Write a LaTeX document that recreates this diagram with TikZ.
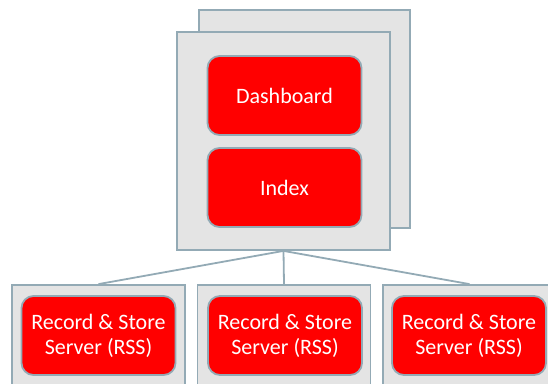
\documentclass[tikz,border=0pt]{standalone}
\usepackage{fontspec}
\setmainfont{Carlito}
\definecolor{panelfill}{HTML}{E4E4E4}
\definecolor{edge}{HTML}{93AAB5}
\definecolor{boxred}{HTML}{FF0000}
\begin{document}
\begin{tikzpicture}[x=1pt,y=-1pt,
  panel/.style={draw=edge, line width=1.8pt, fill=panelfill, rectangle, inner sep=0pt},
  redbox/.style={draw=edge, line width=1.8pt, fill=boxred, rectangle, rounded corners=12pt,
    inner sep=0pt, minimum width=154pt, minimum height=79pt, text=white,
    font=\fontsize{22}{25}\selectfont, align=center},
  link/.style={draw=edge, line width=1.8pt}]
\useasboundingbox (0,0) rectangle (548,383);
\clip (0,0) rectangle (548,383);
% top stack
\node[panel, minimum width=211pt, minimum height=218pt] (back) at (304.5,119) {};
\node[panel, minimum width=213pt, minimum height=218pt] (front) at (283.5,141) {};
\node[redbox] (dash) at (284.5,95.5) {Dashboard};
\node[redbox] (index) at (284.5,187.5) {Index};
% bottom panels
\node[panel, minimum width=173pt, minimum height=140pt] (p1) at (98.5,355) {};
\node[panel, minimum width=173pt, minimum height=140pt] (p2) at (284,355) {};
\node[panel, minimum width=173pt, minimum height=140pt] (p3) at (469.5,355) {};
\node[redbox] (r1) at (98.5,335.5) {Record \& Store\\Server (RSS)};
\node[redbox] (r2) at (285,335.5) {Record \& Store\\Server (RSS)};
\node[redbox] (r3) at (469,335.5) {Record \& Store\\Server (RSS)};
% connectors
\coordinate (j) at (front.south);
\draw[link] (j) -- (p1.north);
\draw[link] (j) -- (p2.north);
\draw[link] (j) -- (p3.north);
\end{tikzpicture}
\end{document}
